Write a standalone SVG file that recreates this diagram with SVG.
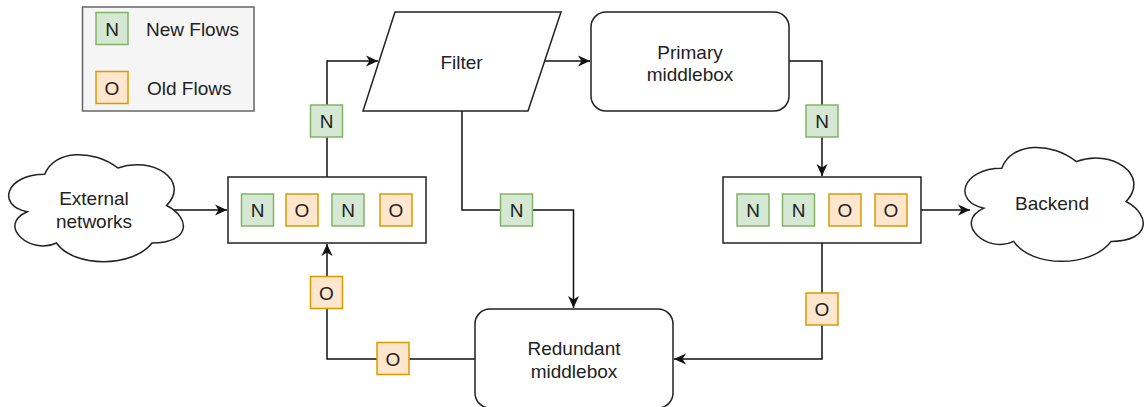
<svg xmlns="http://www.w3.org/2000/svg" width="1144" height="407" viewBox="0 0 1144 407">
<style>
text{font-family:"Liberation Sans",Arial,Helvetica,sans-serif;font-size:19px;fill:#222;}
.c{text-anchor:middle;}
.shape{fill:#fff;stroke:#222;stroke-width:1.5;}
.n{fill:#d5e8d4;stroke:#82b366;stroke-width:1.5;}
.o{fill:#ffe6cc;stroke:#d79b00;stroke-width:1.5;}
.edge{fill:none;stroke:#111;stroke-width:1.5;}
.legend{fill:#f5f5f5;stroke:#666;stroke-width:1.5;}
</style>
<defs>
<marker id="arr" viewBox="-13 -7 14 14" markerWidth="14" markerHeight="14" refX="0" refY="0" orient="auto" markerUnits="userSpaceOnUse">
<path d="M0,0 L-12,-5.5 L-8.5,0 L-12,5.5 Z" fill="#111"/>
</marker>
</defs>

<g id="legend">
<rect class="legend" x="82.5" y="7" width="171.5" height="104"/>
<rect class="n" x="96" y="12.5" width="32" height="32"/>
<text class="c" x="112" y="35.5">N</text>
<text x="146" y="35.5">New Flows</text>
<rect class="o" x="96" y="71.5" width="32" height="32"/>
<text class="c" x="112" y="94.5">O</text>
<text x="147" y="94.5">Old Flows</text>
</g>

<g id="connectors">
<path class="edge" d="M170,210 H227" marker-end="url(#arr)"/>
<path class="edge" d="M327,177 V61 H378" marker-end="url(#arr)"/>
<path class="edge" d="M545,61 H590" marker-end="url(#arr)"/>
<path class="edge" d="M789,61 H822 V176" marker-end="url(#arr)"/>
<path class="edge" d="M921,210 H970" marker-end="url(#arr)"/>
<path class="edge" d="M462,111 V210 H573.5 V308" marker-end="url(#arr)"/>
<path class="edge" d="M822,243 V359 H674" marker-end="url(#arr)"/>
<path class="edge" d="M475,359 H327 V244" marker-end="url(#arr)"/>
</g>

<g id="external">
<path class="shape" d="M 44.75 174.25 C 5.75 174.25 -4 205.5 27.2 211.75 C -4 225.5 31.1 255.5 56.45 243 C 74 268 132.5 268 152 243 C 191 243 191 218 166.6 205.5 C 191 180.5 152 155.5 117.9 168 C 93.5 149.25 54.5 149.25 44.75 174.25 Z"/>
<text class="c" x="94" y="205">External</text>
<text class="c" x="94" y="228">networks</text>
</g>

<g id="queue-in">
<rect class="shape" x="228" y="177" width="198" height="66"/>
<rect class="n" x="241.5" y="194" width="32" height="32"/><text class="c" x="257.5" y="217">N</text>
<rect class="o" x="286" y="194" width="32" height="32"/><text class="c" x="302" y="217">O</text>
<rect class="n" x="332" y="194" width="32" height="32"/><text class="c" x="348" y="217">N</text>
<rect class="o" x="380" y="194" width="32" height="32"/><text class="c" x="396" y="217">O</text>
</g>

<g id="filter">
<polygon class="shape" points="395,12 561,12 528,111 363,111"/>
<text class="c" x="461.5" y="69">Filter</text>
</g>

<g id="primary">
<rect class="shape" x="591" y="12" width="198" height="99" rx="15" ry="15"/>
<text class="c" x="690" y="58.5">Primary</text>
<text class="c" x="690" y="81">middlebox</text>
</g>

<g id="queue-out">
<rect class="shape" x="723" y="177" width="198" height="66"/>
<rect class="n" x="737" y="194" width="32" height="32"/><text class="c" x="753" y="217">N</text>
<rect class="n" x="782.5" y="194" width="32" height="32"/><text class="c" x="798.5" y="217">N</text>
<rect class="o" x="829" y="194" width="32" height="32"/><text class="c" x="845" y="217">O</text>
<rect class="o" x="875" y="194" width="32" height="32"/><text class="c" x="891" y="217">O</text>
</g>

<g id="backend">
<path class="shape" d="M 1001.75 168.25 C 961.95 168.25 952 201.5 983.84 208.15 C 952 222.78 987.82 254.7 1013.69 241.4 C 1031.6 268 1091.3 268 1111.2 241.4 C 1151 241.4 1151 214.8 1126.13 201.5 C 1151 174.9 1111.2 148.3 1076.38 161.6 C 1051.5 141.65 1011.7 141.65 1001.75 168.25 Z"/>
<text class="c" x="1052" y="210">Backend</text>
</g>

<g id="redundant">
<rect class="shape" x="475" y="309" width="198" height="99" rx="15" ry="15"/>
<text class="c" x="574" y="355">Redundant</text>
<text class="c" x="574" y="377.5">middlebox</text>
</g>

<g id="flow-labels">
<rect class="n" x="310.5" y="105" width="32" height="32"/><text class="c" x="326.5" y="128">N</text>
<rect class="n" x="806" y="105" width="32" height="32"/><text class="c" x="822" y="128">N</text>
<rect class="n" x="500.5" y="194" width="32" height="32"/><text class="c" x="516.5" y="217">N</text>
<rect class="o" x="310.5" y="276.5" width="32" height="32"/><text class="c" x="326.5" y="299.5">O</text>
<rect class="o" x="806" y="293" width="32" height="32"/><text class="c" x="822" y="316">O</text>
<rect class="o" x="377" y="342.5" width="32" height="32"/><text class="c" x="393" y="365.5">O</text>
</g>
</svg>
